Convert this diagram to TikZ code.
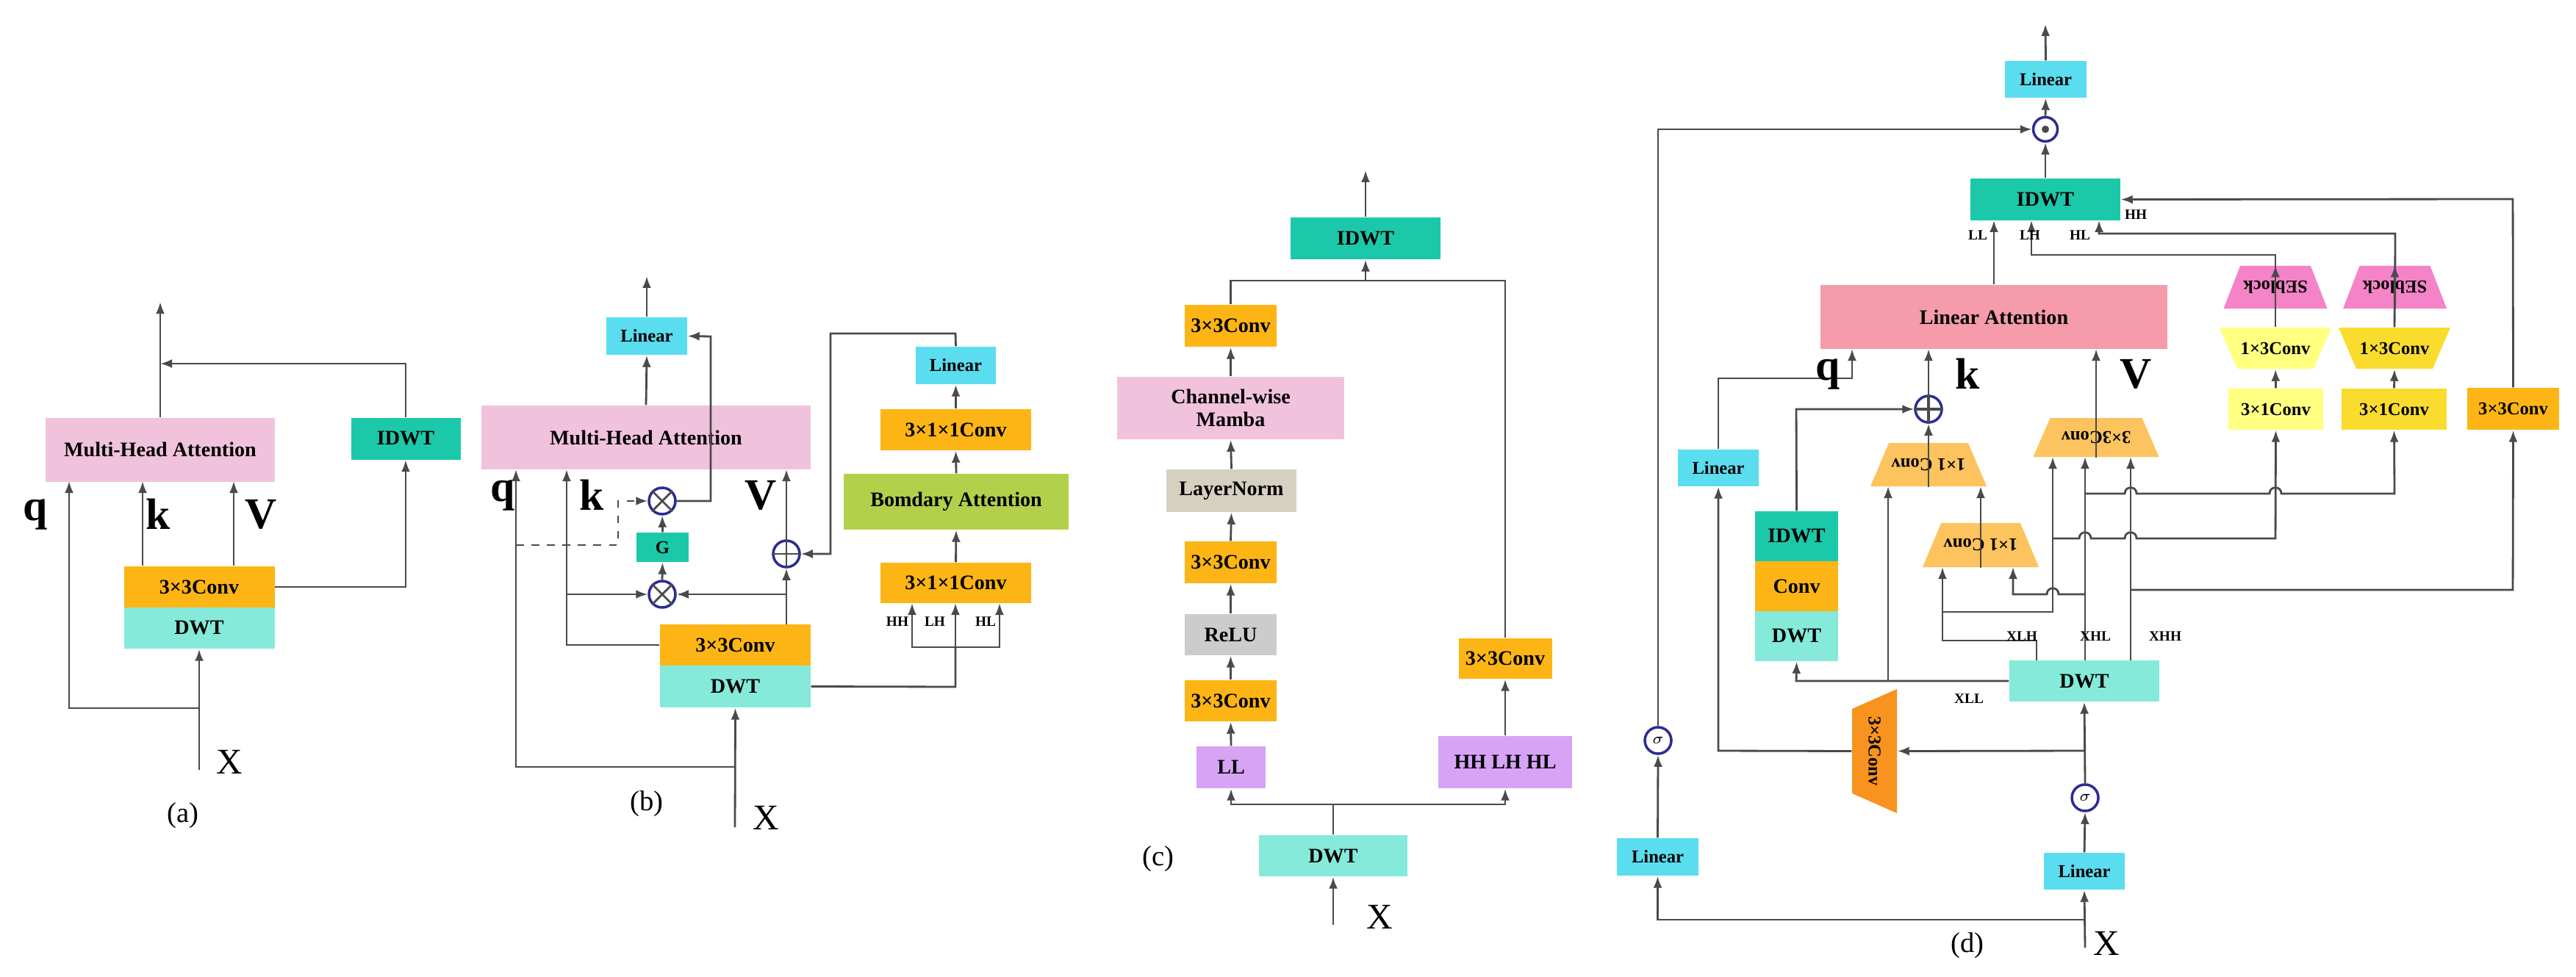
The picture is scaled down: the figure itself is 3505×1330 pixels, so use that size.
\documentclass[tikz,border=0pt]{standalone}
\usepackage{fontspec}
\setmainfont{Liberation Serif}
\usetikzlibrary{arrows.meta,shapes.geometric}
\definecolor{mpink}{HTML}{F0C2DC}
\definecolor{lapink}{HTML}{F59BAA}
\definecolor{idwt}{HTML}{1BC9AA}
\definecolor{dwt}{HTML}{85EAD9}
\definecolor{conv}{HTML}{FDB515}
\definecolor{lin}{HTML}{5BDDF0}
\definecolor{bgreen}{HTML}{B2D04A}
\definecolor{purp}{HTML}{D7A3F5}
\definecolor{lnorm}{HTML}{D5D0C0}
\definecolor{relu}{HTML}{CCCCCC}
\definecolor{trap}{HTML}{FDC35E}
\definecolor{se}{HTML}{F583C8}
\definecolor{ly}{HTML}{FFFF80}
\definecolor{yy}{HTML}{F9DC2E}
\definecolor{dor}{HTML}{F7931E}
\definecolor{ln}{HTML}{4A4A4A}
\newcommand\trapz[9]{%
 \fill[#7] ({#2-#4/2},{#3-#6/2}) -- ({#2+#4/2},{#3-#6/2}) -- ({#2+#5/2},{#3+#6/2}) -- ({#2-#5/2},{#3+#6/2}) -- cycle;
 \node[inner sep=0,minimum width={#5*0.1mm},minimum height={#6*0.1mm},font=\bfseries\fontsize{7}{8}\selectfont,#8] (#1) at (#2,#3) {#9};}
\begin{document}
\begin{tikzpicture}[x=0.1mm,y=-0.1mm,
 bx/.style={inner sep=0,font=\bfseries\fontsize{8}{9}\selectfont,align=center},
 sm/.style={bx,font=\bfseries\fontsize{7}{8}\selectfont},
 ar/.style={draw=ln,line width=0.8pt,-{Latex[length=1.6mm,width=1.2mm]}},
 li/.style={draw=ln,line width=0.8pt},
 big/.style={font=\bfseries\fontsize{17}{17}\selectfont},
 tiny/.style={font=\bfseries\fontsize{5.5}{6}\selectfont},
 lab/.style={font=\fontsize{11}{12}\selectfont},
 circ/.style={circle,draw=ln!60!blue,line width=1pt,minimum size=3.6mm,inner sep=0,fill=white}]
\useasboundingbox (0,0) rectangle (3505,1330);
% ---------------- (a)
\node[bx,fill=mpink,minimum width=31.2mm,minimum height=8.7mm] (mhaA) at (218,612) {Multi-Head Attention};
\node[bx,fill=idwt,minimum width=14.9mm,minimum height=5.7mm] (idwtA) at (552,597) {IDWT};
\node[bx,fill=conv,minimum width=20.5mm,minimum height=5.7mm] (convA) at (271,799) {3×3Conv};
\node[bx,fill=dwt,minimum width=20.5mm,minimum height=5.6mm] (dwtA) at (271,855) {DWT};
\coordinate (xA) at (271,1048);
\draw[ar] (xA) -- (dwtA.south);
\draw[ar] (271,964) -- (94,964) -- (94,655);
\draw[ar] (194,770) -- (194,655);
\draw[ar] (318,770) -- (318,655);
\draw[ar] (convA.east) -- (552,799) -- (idwtA.south);
\draw[ar] (idwtA.north) -- (552,495) -- (218,495);
\draw[ar] (mhaA.north) -- (218,411);
\node[big] at (48,700) {q};
\node[big] at (215,700) {k};
\node[big] at (355,700) {V};
\node[lab,font=\fontsize{14}{14}\selectfont] at (312,1037) {X};
\node[lab] at (249,1110) {(a)};
% ---------------- (b)
\node[bx,fill=mpink,minimum width=44.8mm,minimum height=8.7mm] (mhaB) at (879,595.5) {Multi-Head Attention};
\node[sm,fill=lin,minimum width=11mm,minimum height=5.1mm] (linB) at (880,457.5) {Linear};
\node[circ] (otT) at (901,682) {};
\node[circ] (otB) at (901,809) {};
\node[sm,fill=idwt,minimum width=7.1mm,minimum height=4mm] (G) at (901.5,745) {G};
\node[circ] (opB) at (1070,754) {};
\node[bx,fill=conv,minimum width=20.5mm,minimum height=5.6mm] (convB) at (1000.5,878) {3×3Conv};
\node[bx,fill=dwt,minimum width=20.5mm,minimum height=5.7mm] (dwtB) at (1000.5,934.5) {DWT};
\foreach \n in {otT,otB}{\draw[ln,line width=0.8pt] (\n.north east) -- (\n.south west) (\n.north west) -- (\n.south east);}
\draw[ln,line width=0.8pt] (opB.north) -- (opB.south) (opB.west) -- (opB.east);
\draw[ar] (mhaB.north) -- (linB.south);
\draw[ar] (linB.north) -- (880,376);
\coordinate (xB) at (1000,1126);
\draw[ar] (xB) -- (dwtB.south);
\draw[ar] (1000,1044) -- (702,1044) -- (702,639);
\draw[ar] (convB.west) -- (771,878) -- (771,639);
\draw[ar] (771,809) -- (otB.west);
\draw[ar] (1070,850) -- (opB.south);
\draw[ar] (opB.north) -- (1070,639);
\draw[ar] (1070,809) -- (otB.east);
\draw[ar] (otB.north) -- (G.south);
\draw[ar] (G.north) -- (otT.south);
\draw[ar] (otT.east) -- (967,682) -- (967,458) -- (linB.east);
\draw[ar,dashed] (702,742) -- (841,742) -- (841,682) -- (otT.west);
\node[bx,fill=conv,minimum width=20.5mm,minimum height=5.5mm] (bc1) at (1300.5,793.5) {3×1×1Conv};
\node[bx,fill=bgreen,minimum width=30.6mm,minimum height=7.6mm] (batt) at (1301,683) {Bomdary Attention};
\node[bx,fill=conv,minimum width=20.5mm,minimum height=5.6mm] (bc2) at (1300.5,585) {3×1×1Conv};
\node[sm,fill=lin,minimum width=10.9mm,minimum height=5.1mm] (blin) at (1300.5,497.5) {Linear};
\draw[li] (dwtB.east) -- (1300,935) -- (1300,881);
\draw[ar] (1300,881) -- (1300,821);
\draw[ar] (1300,881) -- (1241,881) -- (1241,821);
\draw[ar] (1300,881) -- (1360,881) -- (1360,821);
\draw[ar] (bc1.north) -- (batt.south);
\draw[ar] (batt.north) -- (bc2.south);
\draw[ar] (bc2.north) -- (blin.south);
\draw[ar] (blin.north) -- (1300,454) -- (1130,454) -- (1130,754) -- (opB.east);
\node[tiny] at (1221,846) {HH};
\node[tiny] at (1272,846) {LH};
\node[tiny] at (1341,846) {HL};
\node[big] at (684,674) {q};
\node[big] at (805,674) {k};
\node[big] at (1035,674) {V};
\node[lab,font=\fontsize{14}{14}\selectfont] at (1042,1113) {X};
\node[lab] at (880,1094) {(b)};
% ---------------- (c)
\node[bx,fill=idwt,minimum width=20.4mm,minimum height=5.7mm] (idwtC) at (1858,324.5) {IDWT};
\node[bx,fill=conv,minimum width=12.5mm,minimum height=5.7mm] (c1) at (1674.5,443.5) {3×3Conv};
\node[bx,fill=mpink,minimum width=30.9mm,minimum height=8.5mm] (mamba) at (1674.5,555.5) {Channel-wise\\Mamba};
\node[bx,fill=lnorm,minimum width=17.7mm,minimum height=5.8mm] (lnm) at (1675.5,668) {LayerNorm};
\node[bx,fill=conv,minimum width=12.5mm,minimum height=5.7mm] (c2) at (1674.5,765.5) {3×3Conv};
\node[bx,fill=relu,minimum width=12.5mm,minimum height=5.6mm] (relu) at (1674.5,864) {ReLU};
\node[bx,fill=conv,minimum width=12.5mm,minimum height=5.6mm] (c3) at (1674.5,954) {3×3Conv};
\node[bx,fill=purp,minimum width=9.4mm,minimum height=5.7mm] (LL) at (1675,1044.5) {LL};
\node[bx,fill=purp,minimum width=18.2mm,minimum height=7.1mm] (HHC) at (2048,1037.5) {HH LH HL};
\node[bx,fill=conv,minimum width=12.7mm,minimum height=5.5mm] (rc) at (2048,896.5) {3×3Conv};
\node[bx,fill=dwt,minimum width=20.2mm,minimum height=5.6mm] (dwtC) at (1814,1165) {DWT};
\coordinate (xC) at (1814,1259);
\draw[ar] (xC) -- (dwtC.south);
\draw[li] (dwtC.north) -- (1814,1095);
\draw[ar] (1814,1095) -| (LL.south);
\draw[ar] (1814,1095) -| (HHC.south);
\draw[ar] (LL.north) -- (c3.south);
\draw[ar] (c3.north) -- (relu.south);
\draw[ar] (relu.north) -- (c2.south);
\draw[ar] (c2.north) -- (lnm.south);
\draw[ar] (lnm.north) -- (mamba.south);
\draw[ar] (mamba.north) -- (c1.south);
\draw[ar] (HHC.north) -- (rc.south);
\draw[li] (c1.north) |- (1858,382);
\draw[li] (rc.north) |- (1858,382);
\draw[ar] (1858,382) -- (idwtC.south);
\draw[ar] (idwtC.north) -- (1858,232);
\node[lab,font=\fontsize{14}{14}\selectfont] at (1877,1248) {X};
\node[lab] at (1576,1169) {(c)};
% ---------------- (d)
\node[sm,fill=lin,minimum width=11.1mm,minimum height=5mm] (linTop) at (2783.5,108) {Linear};
\node[circ,minimum size=3.3mm] (odot) at (2783,176) {};
\fill[ln] (odot.center) circle (0.5mm);
\node[bx,fill=idwt,minimum width=20.4mm,minimum height=5.7mm] (idwtD) at (2783,271.5) {IDWT};
\node[bx,fill=lapink,minimum width=47.2mm,minimum height=8.7mm] (latt) at (2713,431.5) {Linear Attention};
\trapz{se1}{3096}{391}{96}{141}{58}{se}{rotate=180}{SEblock}
\trapz{se2}{3258.5}{391}{96}{141}{58}{se}{rotate=180}{SEblock}
\trapz{t13a}{3096}{474}{152}{104}{56}{ly}{}{1×3Conv}
\trapz{t13b}{3258}{474}{152}{104}{56}{yy}{}{1×3Conv}
\node[sm,fill=ly,minimum width=12.9mm,minimum height=5.6mm] (c31a) at (3096.5,557) {3×1Conv};
\node[sm,fill=yy,minimum width=14.3mm,minimum height=5.6mm] (c31b) at (3257.5,557) {3×1Conv};
\node[sm,fill=conv,minimum width=12.5mm,minimum height=5.7mm] (c33d) at (3419.5,556.5) {3×3Conv};
\trapz{trV}{2852}{595.5}{125}{171}{53}{trap}{rotate=180}{3×3Conv}
\trapz{trK1}{2624}{632.5}{108}{158}{59}{trap}{rotate=180}{1×1 Conv}
\trapz{trK2}{2695}{742}{108}{158}{60}{trap}{rotate=180}{1×1 Conv}
\node[sm,fill=lin,minimum width=11mm,minimum height=5mm] (linQ) at (2338,637) {Linear};
\node[bx,fill=idwt,minimum width=11.3mm,minimum height=6.8mm] (sI) at (2444.5,730) {IDWT};
\node[bx,fill=conv,minimum width=11.3mm,minimum height=6.8mm] (sC) at (2444.5,798) {Conv};
\node[bx,fill=dwt,minimum width=11.3mm,minimum height=6.8mm] (sD) at (2444.5,866) {DWT};
\node[bx,fill=dwt,minimum width=20.4mm,minimum height=5.6mm] (dwtD) at (2836,927) {DWT};
\node[circ] (opD) at (2624,557) {};
\draw[ln,line width=0.9pt] (opD.north) -- (opD.south) (opD.west) -- (opD.east);
\fill[dor] (2520,965) -- (2581,938) -- (2581,1107) -- (2520,1080) -- cycle;
\node[inner sep=0,minimum width=6.1mm,minimum height=16.9mm] (vt) at (2550.5,1022.5) {};
\node[rotate=-90,font=\fontsize{7}{8}\selectfont\bfseries] at (vt.center) {3×3Conv};
\node[circ] (sigL) at (2256,1008) {\fontsize{6}{6}\selectfont$\sigma$};
\node[sm,fill=lin,minimum width=11.1mm,minimum height=5.1mm] (linL) at (2255.5,1166.5) {Linear};
\node[circ] (sigR) at (2837,1086) {\fontsize{6}{6}\selectfont$\sigma$};
\node[sm,fill=lin,minimum width=11mm,minimum height=5mm] (linR) at (2836,1186) {Linear};
\coordinate (xD) at (2837,1290);
\draw[ar] (xD) -- (linR.south);
\draw[ar] (2837,1252) -| (linL.south);
\draw[ar] (linR.north) -- (sigR.south);
\draw[ar] (sigR.north) -- (dwtD.south);
\draw[ar] (2837,1022) -- (vt.east);
\draw[ar] (vt.west) -- (2338,1022) -- (linQ.south);
\draw[ar] (linL.north) -- (sigL.south);
\draw[ar] (sigL.north) -- (2256,176) -- (odot.west);
\draw[ar] (idwtD.north) -- (odot.south);
\draw[ar] (odot.north) -- (linTop.south);
\draw[ar] (linTop.north) -- (2783,33);
\draw[ar] (linQ.north) -- (2338,515) -- (2520,515) -- (2520,475);
\draw[ar] (sI.north) -- (2444,557) -- (opD.west);
\draw[ar] (trK1.north) -- (opD.south);
\draw[ar] (opD.north) -- (2624,475);
\draw[ar] (trV.north) -- (2852,475);
\draw[ar] (latt.north) -- (2713,300);
\draw[ar] (se1.north) -- (3096,347) -- (2764,347) -- (2764,300);
\draw[ar] (se2.north) -- (3259,318) -- (2856,318) -- (2856,300);
\draw[ar] (c33d.north) -- (3419,271) -- (idwtD.east);
\draw[ar] (c31a.north) -- (t13a.south);
\draw[ar] (t13a.north) -- (se1.south);
\draw[ar] (c31b.north) -- (t13b.south);
\draw[ar] (t13b.north) -- (se2.south);
\draw[ar] (dwtD.west) -- (2444,927) -- (sD.south);
\draw[ar] (2569,927) -- (2569,662);
\draw[ar] (trK2.north) -- (2695,662);
% XLH
\draw[ar] (2771,899) -- (2771,872) -- (2643,872) -- (2643,772);
\draw[ar] (2643,833) -- (2793,833) -- (2793,622);
% XHL
\draw[ar] (2837,899) -- (2837,622);
\draw[ar] (2837,809) -- (2801,809) .. controls (2801,798) and (2785,798) .. (2785,809) -- (2739,809) -- (2739,772);
\draw[ar] (2837,672) -- (2891,672) .. controls (2891,661) and (2907,661) .. (2907,672) -- (3088,672) .. controls (3088,661) and (3104,661) .. (3104,672) -- (3258,672) -- (c31b.south);
\draw[ar] (2793,733) -- (2829,733) .. controls (2829,722) and (2845,722) .. (2845,733) -- (2891,733) .. controls (2891,722) and (2907,722) .. (2907,733) -- (3096,733) -- (c31a.south);
% XHH
\draw[ar] (2899,899) -- (2899,622);
\draw[ar] (2899,803) -- (3419,803) -- (c33d.south);
\node[big] at (2487,509) {q};
\node[big] at (2677,509) {k};
\node[big] at (2906,509) {V};
\node[tiny] at (2691,320) {LL};
\node[tiny] at (2762,320) {LH};
\node[tiny] at (2830,320) {HL};
\node[tiny] at (2906,292) {HH};
\node[tiny] at (2751,866) {XLH};
\node[tiny] at (2851,866) {XHL};
\node[tiny] at (2946,866) {XHH};
\node[tiny] at (2679,951) {XLL};
\node[lab,font=\fontsize{14}{14}\selectfont] at (2866,1284) {X};
\node[lab] at (2677,1287) {(d)};
\end{tikzpicture}
\end{document}
